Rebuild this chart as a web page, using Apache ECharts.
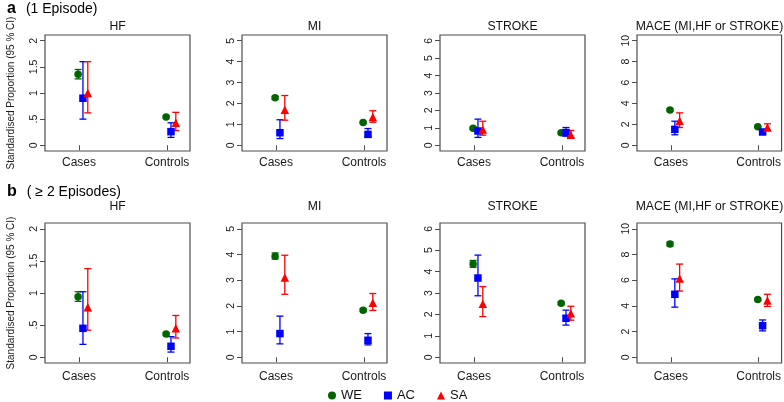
<!DOCTYPE html>
<html><head><meta charset="utf-8">
<script src="https://cdn.jsdelivr.net/npm/echarts@6/dist/echarts.min.js"></script>
<style>html,body{margin:0;padding:0;background:#fff}#c{width:784px;height:402px}</style>
</head><body><div id="c"></div>
<script>
const categories = ['Cases', 'Controls'];
const seriesNames = ['WE', 'AC', 'SA'];
const outcomes = ['HF', 'MI', 'STROKE', 'MACE (MI,HF or STROKE)'];
const rowLetters = ['a', 'b'];
const rowSubtitles = ['(1 Episode)', '( \u2265 2 Episodes)'];
const yAxisTitle = 'Standardised Proportion (95 % CI)';
const yTickValues = [[0, 0.5, 1, 1.5, 2], [0, 1, 2, 3, 4, 5], [0, 1, 2, 3, 4, 5, 6], [0, 2, 4, 6, 8, 10]];
const yTickLabels = [['0', '.5', '1', '1.5', '2'], ['0', '1', '2', '3', '4', '5'], ['0', '1', '2', '3', '4', '5', '6'], ['0', '2', '4', '6', '8', '10']];

// per outcome (HF, MI, STROKE, MACE): [[Cases est, lo, hi], [Controls est, lo, hi]]
const ep1_WE = [[[1.36, 1.27, 1.45], [0.54, 0.52, 0.56]], [[2.27, 2.20, 2.34], [1.09, 1.05, 1.13]], [[0.98, 0.92, 1.04], [0.72, 0.68, 0.76]], [[3.38, 3.28, 3.48], [1.76, 1.71, 1.81]]];
const ep1_AC = [[[0.90, 0.50, 1.60], [0.26, 0.15, 0.43]], [[0.60, 0.32, 1.22], [0.52, 0.38, 0.80]], [[0.82, 0.45, 1.50], [0.73, 0.52, 1.02]], [[1.52, 1.00, 2.30], [1.27, 1.08, 1.50]]];
const ep1_SA = [[[1.00, 0.62, 1.60], [0.43, 0.28, 0.63]], [[1.70, 1.20, 2.38], [1.35, 1.10, 1.65]], [[0.90, 0.58, 1.38], [0.60, 0.45, 0.85]], [[2.35, 1.70, 3.10], [1.70, 1.43, 2.05]]];
const ep2_WE = [[[0.94, 0.87, 1.02], [0.36, 0.34, 0.38]], [[3.93, 3.82, 4.06], [1.83, 1.78, 1.88]], [[4.36, 4.20, 4.52], [2.52, 2.45, 2.58]], [[8.82, 8.65, 8.97], [4.50, 4.42, 4.58]]];
const ep2_AC = [[[0.45, 0.20, 1.02], [0.17, 0.08, 0.32]], [[0.92, 0.52, 1.60], [0.66, 0.48, 0.92]], [[3.70, 2.87, 4.77], [1.82, 1.50, 2.20]], [[4.90, 3.90, 6.10], [2.45, 2.05, 2.90]]];
const ep2_SA = [[[0.78, 0.42, 1.38], [0.45, 0.30, 0.65]], [[3.10, 2.45, 3.97], [2.12, 1.82, 2.48]], [[2.50, 1.90, 3.30], [2.05, 1.73, 2.38]], [[6.12, 5.15, 7.25], [4.42, 3.95, 4.90]]];

const rowsData = [[ep1_WE, ep1_AC, ep1_SA], [ep2_WE, ep2_AC, ep2_SA]];

// styling / layout
const colors = ['#006400', '#0000ff', '#ff0000'];
const symbols = ['circle', 'rect', 'triangle'];
const symbolSizes = [7.5, 7.5, 8.5];
const xOffsets = [-0.01, 0.045, 0.1];
const gridLefts = [45, 242, 440, 637];
const gridWidth = 145;
const rowTops = [35, 223];
const rowHeights = [116, 140];
const rowPad = [0.055, 0.045];
const titleTops = [21, 201];
const FONT = 'Liberation Sans, Arial, Helvetica, sans-serif';

const grids = [], xAxes = [], yAxes = [], series = [], titles = [];

function errRender(params, api) {
  const x = api.value(0), lo = api.value(1), hi = api.value(2);
  const pLo = api.coord([x, lo]), pHi = api.coord([x, hi]);
  const w = 3.5;
  const style = { stroke: api.visual('color'), lineWidth: 1.3, fill: null };
  return {
    type: 'group', children: [
      { type: 'line', shape: { x1: pLo[0], y1: pLo[1], x2: pHi[0], y2: pHi[1] }, style: style },
      { type: 'line', shape: { x1: pLo[0] - w, y1: pLo[1], x2: pLo[0] + w, y2: pLo[1] }, style: style },
      { type: 'line', shape: { x1: pHi[0] - w, y1: pHi[1], x2: pHi[0] + w, y2: pHi[1] }, style: style }
    ]
  };
}

for (let r = 0; r < 2; r++) {
  for (let j = 0; j < 4; j++) {
    const gi = r * 4 + j;
    grids.push({ left: gridLefts[j], top: rowTops[r], width: gridWidth, height: rowHeights[r], show: true, borderColor: '#4d4d4d', borderWidth: 1.2, backgroundColor: 'transparent' });
    const ticks = yTickValues[j];
    const ymax = ticks[ticks.length - 1];
    xAxes.push({
      gridIndex: gi, type: 'value', min: 0.614, max: 2.261,
      axisLine: { show: false }, splitLine: { show: false },
      axisTick: { show: true, customValues: [1, 2], length: 5, lineStyle: { color: '#4d4d4d', width: 1 } },
      axisLabel: { customValues: [1, 2], formatter: v => categories[Math.round(v) - 1], fontSize: 12, color: '#1a1a1a', margin: r === 0 ? 6 : 8, fontFamily: FONT }
    });
    yAxes.push({
      gridIndex: gi, type: 'value', min: -rowPad[r] * ymax, max: ymax * (1 + rowPad[r]),
      axisLine: { show: false }, splitLine: { show: false },
      axisTick: { show: true, customValues: ticks, length: 5, lineStyle: { color: '#4d4d4d', width: 1 } },
      axisLabel: { customValues: ticks, formatter: v => { const k = ticks.findIndex(t => Math.abs(t - v) < 1e-9); return k >= 0 ? yTickLabels[j][k] : ''; }, rotate: 90, fontSize: 10.5, color: '#1a1a1a', margin: 5, fontFamily: FONT },
      name: j === 0 ? yAxisTitle : '', nameLocation: 'middle', nameGap: 29,
      nameTextStyle: { fontSize: 10, color: '#1a1a1a', fontFamily: FONT }
    });
    titles.push({ text: outcomes[j], left: gridLefts[j] + gridWidth / 2, top: titleTops[r], textAlign: 'center', padding: 0, textStyle: { fontSize: 12.2, fontWeight: 'normal', color: '#111', fontFamily: FONT } });
    for (let s = 0; s < 3; s++) {
      const d = rowsData[r][s][j];
      series.push({
        type: 'custom', name: seriesNames[s], xAxisIndex: gi, yAxisIndex: gi,
        renderItem: errRender, itemStyle: { color: colors[s] },
        encode: { x: 0, y: [1, 2] }, silent: true,
        data: d.map((v, i) => [i + 1 + xOffsets[s], v[1], v[2]])
      });
    }
    for (let s = 0; s < 3; s++) {
      const d = rowsData[r][s][j];
      series.push({
        type: 'scatter', name: seriesNames[s], xAxisIndex: gi, yAxisIndex: gi,
        symbol: symbols[s], symbolSize: symbolSizes[s], itemStyle: { color: colors[s], opacity: 1 },
        data: d.map((v, i) => [i + 1 + xOffsets[s], v[0]])
      });
    }
  }
}

const rowTitleRich = { b: { fontSize: 16, fontWeight: 'bold', color: '#000', fontFamily: FONT }, n: { fontSize: 14, fontWeight: 'normal', color: '#000', fontFamily: FONT } };
titles.push({ text: '{b|' + rowLetters[0] + '}  {n|' + rowSubtitles[0] + '}', left: 7, top: 0, padding: 0, textStyle: { fontWeight: 'normal', rich: rowTitleRich } });
titles.push({ text: '{b|' + rowLetters[1] + '}  {n|' + rowSubtitles[1] + '}', left: 7, top: 183, padding: 0, textStyle: { fontWeight: 'normal', rich: rowTitleRich } });

const chart = echarts.init(document.getElementById('c'), null, { renderer: 'canvas' });
chart.setOption({
  animation: false,
  backgroundColor: '#fff',
  title: titles,
  grid: grids, xAxis: xAxes, yAxis: yAxes, series: series,
  legend: {
    data: seriesNames.map((n, s) => ({ name: n, icon: symbols[s] })),
    left: 323, top: 384, itemWidth: 8, itemHeight: 8, itemGap: 22,
    textStyle: { fontSize: 13, color: '#111', fontFamily: FONT }
  }
});
</script></body></html>
